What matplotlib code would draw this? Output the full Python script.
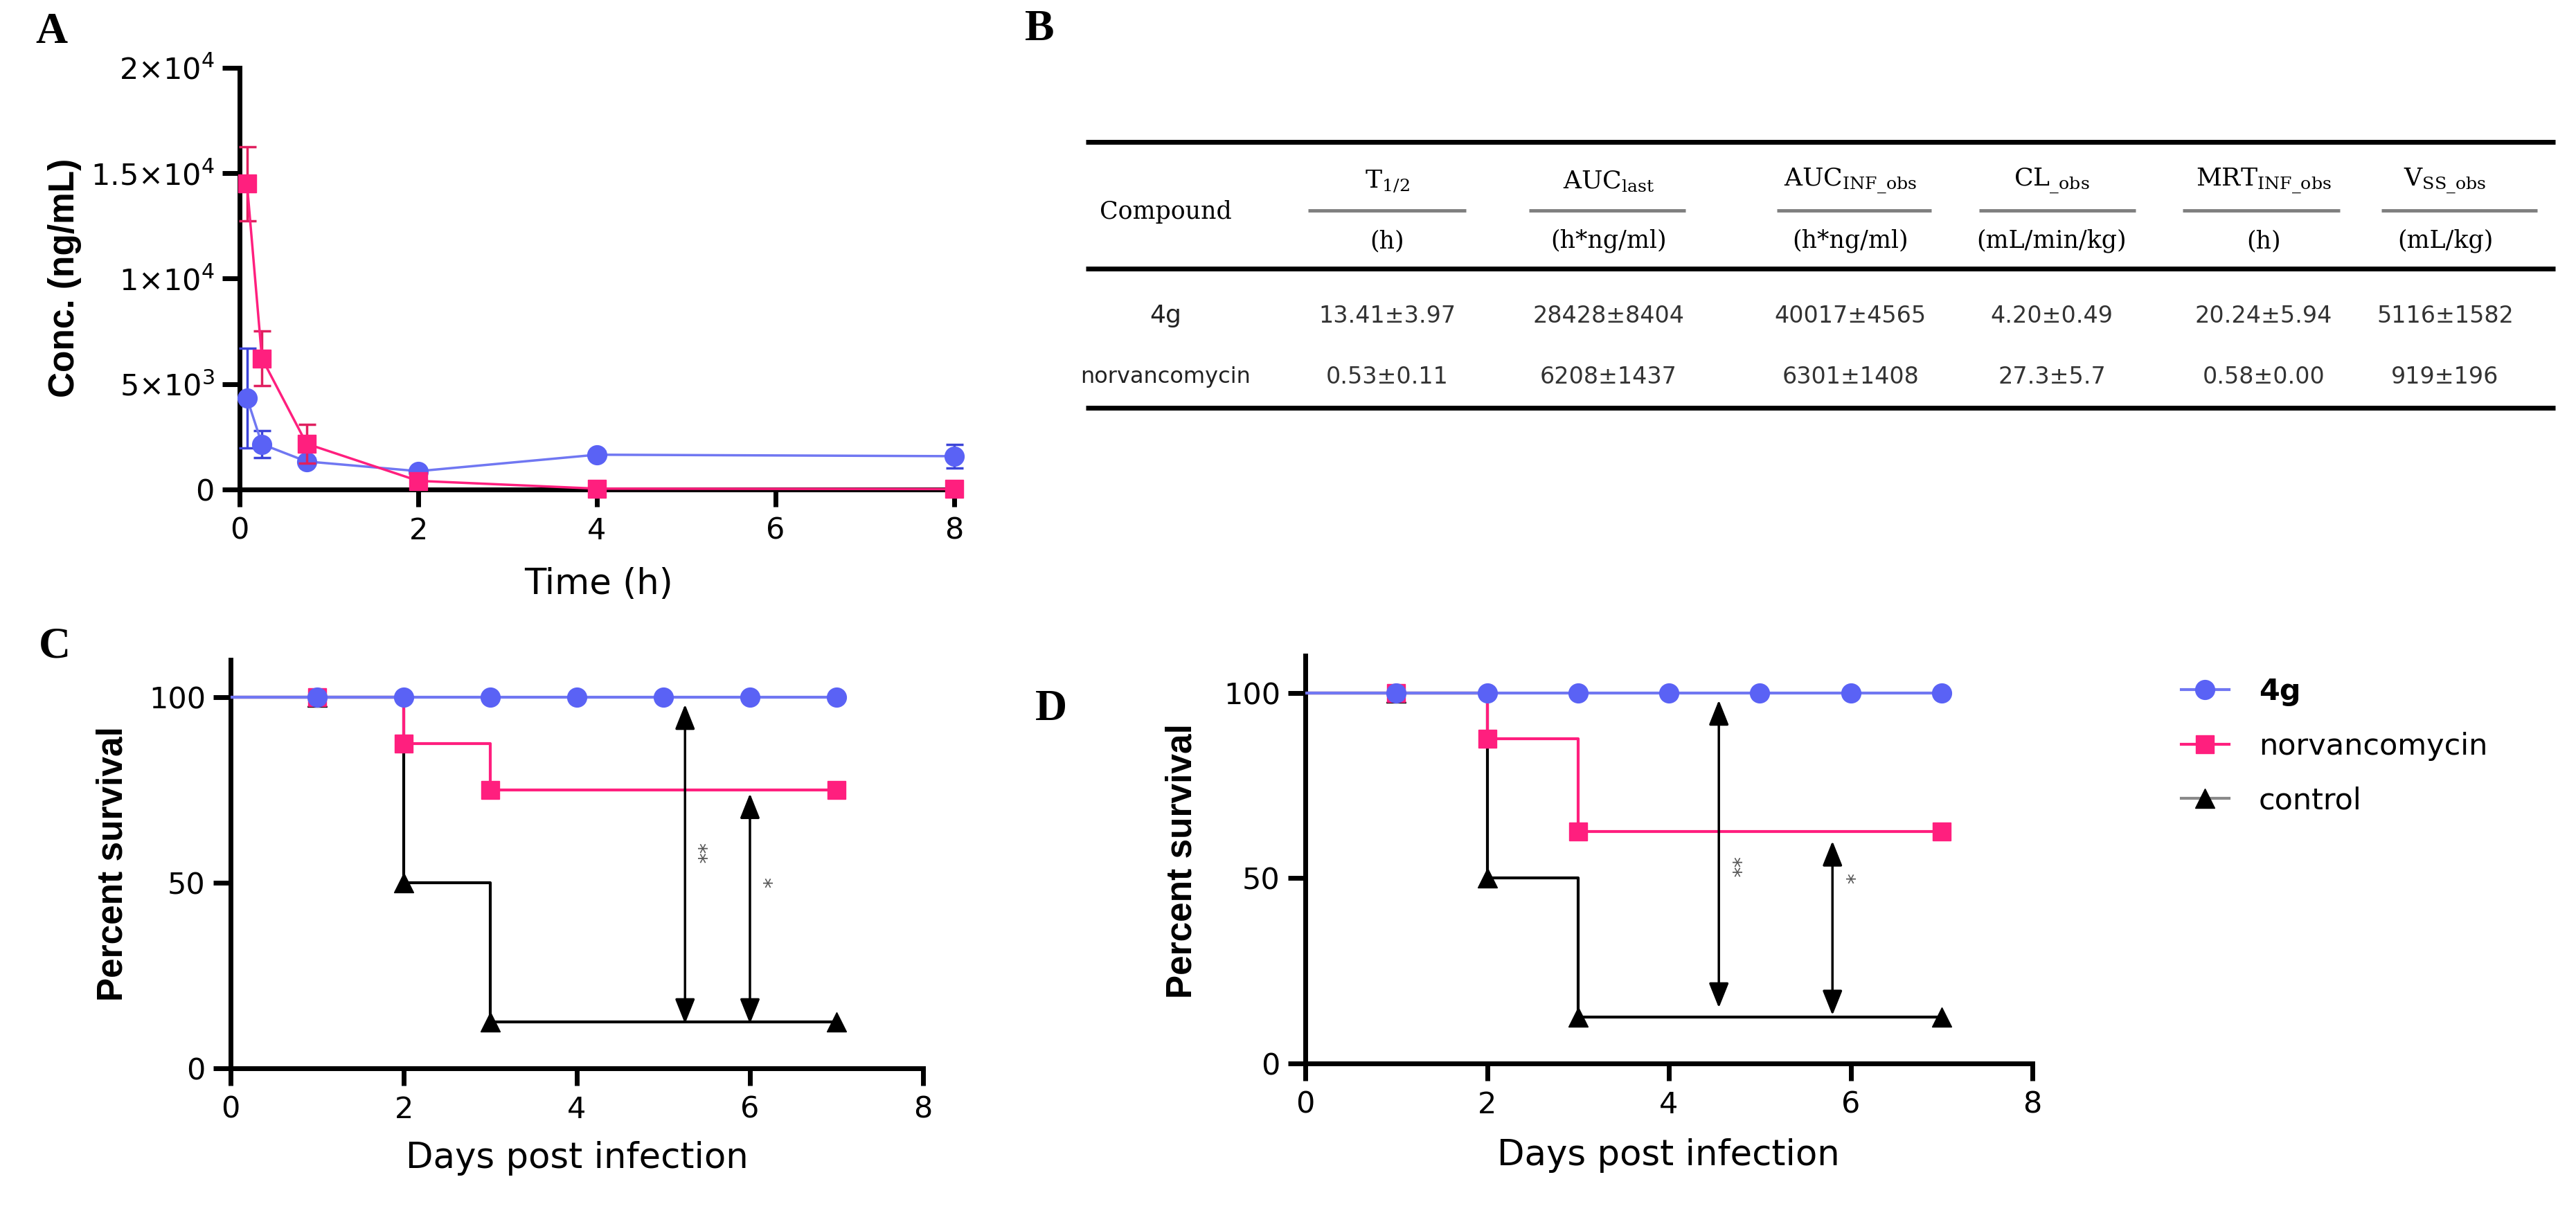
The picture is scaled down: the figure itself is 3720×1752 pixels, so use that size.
import numpy as np
import matplotlib
matplotlib.use("Agg")
import matplotlib.pyplot as plt
from matplotlib.lines import Line2D

# ---------------------------------------------------------------- data
# panel A: plasma concentration (ng/mL) vs time (h)
time_4g = [0.083, 0.25, 0.75, 2, 4, 8]
conc_4g = [4330, 2150, 1330, 870, 1650, 1580]
sd_4g = [2370, 650, 150, 100, 150, 570]
time_nv = [0.083, 0.25, 0.75, 2, 4, 8]
conc_nv = [14500, 6220, 2170, 410, 40, 20]
sd_nv = [1770, 1290, 920, 150, 15, 10]
conc_ticks = [0, 5000, 10000, 15000, 20000]
conc_ticklabels = ["0", "5×10$^{3}$", "1×10$^{4}$", "1.5×10$^{4}$", "2×10$^{4}$"]

# panel B: PK parameters
pk_params = [r"$\mathrm{T}_{1/2}$", r"$\mathrm{AUC}_{\mathrm{last}}$",
             r"$\mathrm{AUC}_{\mathrm{INF\_obs}}$", r"$\mathrm{CL}_{\mathrm{\_obs}}$",
             r"$\mathrm{MRT}_{\mathrm{INF\_obs}}$", r"$\mathrm{V}_{\mathrm{SS\_obs}}$"]
pk_units = ["(h)", "(h*ng/ml)", "(h*ng/ml)", "(mL/min/kg)", "(h)", "(mL/kg)"]
pk_compounds = ["4g", "norvancomycin"]
pk_values = [
    ["13.41±3.97", "28428±8404", "40017±4565", "4.20±0.49", "20.24±5.94", "5116±1582"],
    ["0.53±0.11", "6208±1437", "6301±1408", "27.3±5.7", "0.58±0.00", "919±196"],
]

# panels C and D: percent survival vs days post infection
days_4g = [0, 1, 2, 3, 4, 5, 6, 7]
surv_4g = [100, 100, 100, 100, 100, 100, 100, 100]
days_nv = [0, 1, 2, 3, 7]
surv_nv_C = [100, 100, 87.5, 75, 75]
surv_nv_D = [100, 100, 87.5, 62.5, 62.5]
days_ctrl = [0, 1, 2, 3, 7]
surv_ctrl_C = [100, 100, 50, 12.5, 12.5]
surv_ctrl_D = [100, 100, 50, 12.5, 12.5]

# significance arrows: day, top, bottom, label height
sig_labels = ["**", "*"]
sig_C_x = [5.25, 6.0]
sig_C_top = [98, 74]
sig_C_bot = [12, 12]
sig_C_laby = [58, 50]
sig_D_x = [4.55, 5.8]
sig_D_top = [98, 60]
sig_D_bot = [15, 13]
sig_D_laby = [53, 50]

# ---------------------------------------------------------------- style
blue = "#5A62F5"
blue_line = "#7077F2"
blue_err = "#3C44D8"
pink = "#FF1F7E"
pink_err = "#E0205F"

W, H = 3720, 1752
fig = plt.figure(figsize=(W / 100, H / 100), dpi=100)
plt.rcParams["font.family"] = "DejaVu Sans"

tick_size = 31
label_size = 37
ms = 20


def px_axes(x0, x1, y_top, y_bot):
    # axes rectangle from pixel edges
    return fig.add_axes([x0 / W, 1 - y_bot / H, (x1 - x0) / W, (y_bot - y_top) / H])


def style_axes(ax):
    for s in ["top", "right"]:
        ax.spines[s].set_visible(False)
    for s in ["left", "bottom"]:
        ax.spines[s].set_linewidth(5)
    ax.tick_params(width=5, length=18, labelsize=tick_size, direction="out")
    ax.tick_params(axis="y", pad=8)
    ax.tick_params(axis="x", pad=10)


def set_labels(ax, xlabel, ylabel, xl_pos, yl_pos):
    ax.set_xlabel(xlabel, fontsize=label_size)
    ax.set_ylabel(ylabel, fontsize=label_size, fontweight="bold",
                  family="Liberation Sans")
    ax.xaxis.set_label_coords(*xl_pos)
    ax.yaxis.set_label_coords(*yl_pos)
    ax.xaxis.label.set_va("center")
    ax.yaxis.label.set_va("center")


# ---------------------------------------------------------------- panel A
ax_a = px_axes(346, 1378, 98, 707)
ax_a.errorbar(time_4g, conc_4g, yerr=sd_4g, color=blue_line, lw=2.5,
              marker="o", ms=ms, mfc=blue, mec=blue, ecolor=blue_err,
              elinewidth=2.5, capsize=9, capthick=2.5, clip_on=False, zorder=3)
ax_a.errorbar(time_nv, conc_nv, yerr=sd_nv, color=pink, lw=2.5,
              marker="s", ms=ms - 1, mfc=pink, mec=pink, ecolor=pink_err,
              elinewidth=2.5, capsize=9, capthick=2.5, clip_on=False, zorder=4)
ax_a.set_xlim(0, 8)
ax_a.set_ylim(0, 20000)
ax_a.set_xticks([0, 2, 4, 6, 8])
ax_a.set_yticks(conc_ticks)
ax_a.set_yticklabels(conc_ticklabels)
style_axes(ax_a)
set_labels(ax_a, "Time (h)", "Conc. (ng/mL)", (0.502, -0.225), (-0.245, 0.502))


# ---------------------------------------------------------------- panels C, D
def survival(ax, surv_nv, surv_ctrl, sx, stop, sbot, slaby):
    ax.step(days_ctrl, surv_ctrl, where="post", color="k", lw=3, zorder=2)
    ax.plot(days_ctrl[1:], surv_ctrl[1:], "^", color="k", ms=ms, zorder=2)
    ax.step(days_nv, surv_nv, where="post", color=pink, lw=3, zorder=3)
    ax.plot(days_nv[1:], surv_nv[1:], "s", color=pink, ms=ms - 1, zorder=3)
    ax.step(days_4g, surv_4g, where="post", color=blue_line, lw=3, zorder=4)
    ax.plot(days_4g[1:], surv_4g[1:], "o", color=blue, ms=ms, zorder=4)
    for x, t, b, ly, lab in zip(sx, stop, sbot, slaby, sig_labels):
        ax.annotate("", xy=(x, t), xytext=(x, b),
                    arrowprops=dict(arrowstyle="<|-|>,head_length=1.0,head_width=0.4",
                                    mutation_scale=22, color="k", lw=2.5,
                                    shrinkA=0, shrinkB=0), zorder=5)
        ax.text(x + 0.14, ly, lab, rotation=270, fontsize=22, color="#555555",
                ha="center", va="center")
    ax.set_xlim(0, 8)
    ax.set_ylim(0, 110)
    ax.set_xticks([0, 2, 4, 6, 8])
    ax.set_yticks([0, 50, 100])
    style_axes(ax)


ax_c = px_axes(333, 1333, 953, 1543)
survival(ax_c, surv_nv_C, surv_ctrl_C, sig_C_x, sig_C_top, sig_C_bot, sig_C_laby)
set_labels(ax_c, "Days post infection", "Percent survival", (0.5, -0.22), (-0.17, 0.5))

ax_d = px_axes(1885, 2935, 947, 1536)
survival(ax_d, surv_nv_D, surv_ctrl_D, sig_D_x, sig_D_top, sig_D_bot, sig_D_laby)
set_labels(ax_d, "Days post infection", "Percent survival", (0.499, -0.225), (-0.17, 0.496))

handles = [
    Line2D([], [], color=blue_line, lw=3, marker="o", ms=ms, mfc=blue, mec=blue),
    Line2D([], [], color=pink, lw=3, marker="s", ms=ms - 1, mfc=pink, mec=pink),
    Line2D([], [], color="#8A8A8A", lw=3, marker="^", ms=ms, mfc="k", mec="k"),
]
leg = fig.legend(handles, ["4g", "norvancomycin", "control"], loc="upper left",
                 bbox_to_anchor=(3150 / W, 1 - 978 / H), frameon=False, fontsize=31,
                 handlelength=1.6, handletextpad=1.0, labelspacing=0.85,
                 borderpad=0, borderaxespad=0)
leg.get_texts()[0].set_fontweight("bold")

# ---------------------------------------------------------------- panel B table
ax_t = fig.add_axes([0, 0, 1, 1], zorder=-1)
ax_t.set_xlim(0, W)
ax_t.set_ylim(H, 0)
ax_t.axis("off")

col_x = [1683, 2003, 2323, 2672, 2963, 3269, 3531]
div_x0 = [1889, 2208, 2566, 2858, 3152, 3439]
div_x1 = [2117, 2434, 2789, 3084, 3379, 3664]
row_y = [456, 545]

for y in [205, 388, 589]:
    ax_t.plot([1568, 3690], [y, y], color="k", lw=5, solid_capstyle="butt")
for x0, x1 in zip(div_x0, div_x1):
    ax_t.plot([x0, x1], [304, 304], color="#7F7F7F", lw=3.5, solid_capstyle="butt")

ax_t.text(col_x[0], 306, "Compound", family="DejaVu Serif", fontsize=25,
          ha="center", va="center")
for x, p, u in zip(col_x[1:], pk_params, pk_units):
    ax_t.text(x, 262, p, fontsize=26, math_fontfamily="dejavuserif",
              ha="center", va="center")
    ax_t.text(x, 348, u, family="DejaVu Serif", fontsize=25, ha="center", va="center")
for y, name, vals in zip(row_y, pk_compounds, pk_values):
    ax_t.text(col_x[0], y, name, fontsize=26 if name == "4g" else 23,
              color="#222222", ha="center", va="center")
    for x, v in zip(col_x[1:], vals):
        ax_t.text(x, y, v, fontsize=24, color="#333333", ha="center", va="center")

# ---------------------------------------------------------------- panel letters
for lab, (x, y) in zip(["A", "B", "C", "D"], [(74, 47), (1501, 43), (79, 935), (1518, 1025)]):
    fig.text(x / W, 1 - y / H, lab, family="Liberation Serif", fontweight="bold",
             fontsize=46, ha="center", va="center")

fig.savefig("out.png", dpi=100)
